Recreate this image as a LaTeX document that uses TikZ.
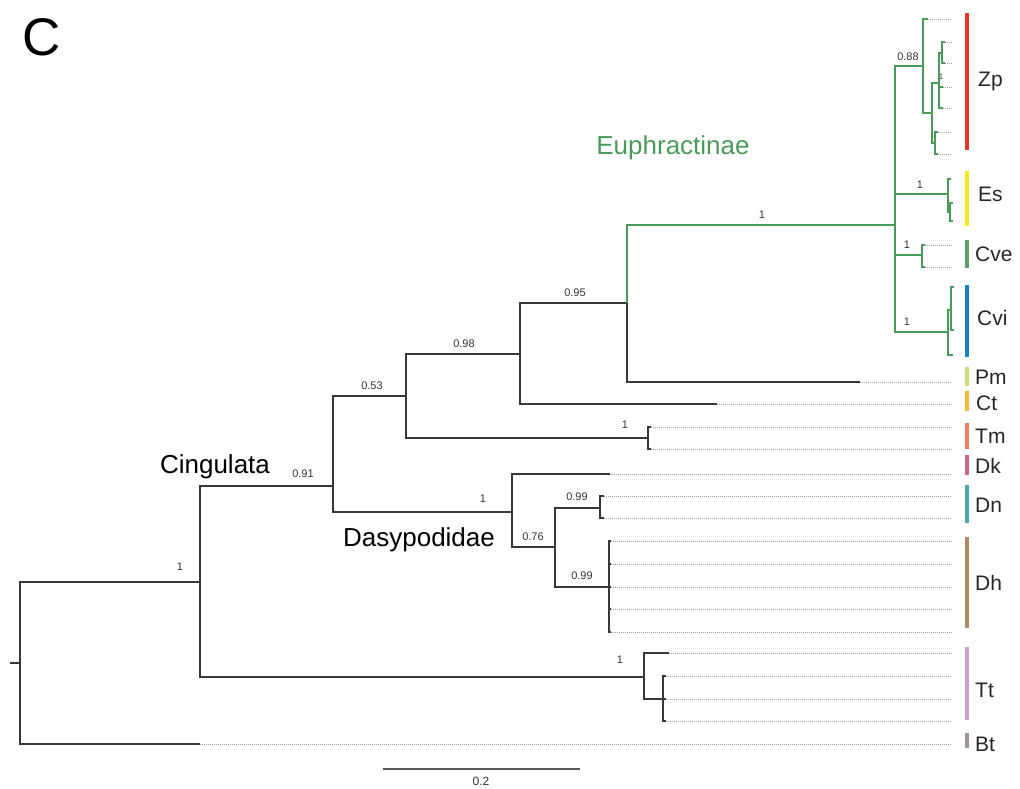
\documentclass[tikz,border=0pt]{standalone}
\usepackage{fontspec}
\setmainfont{Liberation Sans}
\definecolor{euph}{HTML}{4A9A5C}
\definecolor{cZp}{HTML}{E8352C}
\definecolor{cEs}{HTML}{F7E81E}
\definecolor{cCve}{HTML}{5E9E6C}
\definecolor{cCvi}{HTML}{1C7FC8}
\definecolor{cPm}{HTML}{CADC7C}
\definecolor{cCt}{HTML}{F6B93E}
\definecolor{cTm}{HTML}{F07F66}
\definecolor{cDk}{HTML}{CC6A7C}
\definecolor{cDn}{HTML}{4CA8A8}
\definecolor{cDh}{HTML}{A88B66}
\definecolor{cTt}{HTML}{D4A0CE}
\definecolor{cBt}{HTML}{A2929A}
\begin{document}
\begin{tikzpicture}[x=1pt,y=-1pt,
  br/.style={line width=1.4pt, draw=black!78},
  gbr/.style={line width=1.2pt, draw=euph},
  dotline/.style={line width=0.7pt, draw=black!38, dash pattern=on 0.7pt off 1.3pt},
  suplab/.style={font=\fontsize{11}{13}\selectfont, text=black!80, inner sep=0pt},
  tag/.style={anchor=west, font=\fontsize{21}{24}\selectfont, text=black!85, inner sep=0pt},
  clade/.style={font=\fontsize{26}{30}\selectfont, inner sep=0pt},
  cbar/.style={line width=4.5pt},
]
\useasboundingbox (0,0) rectangle (1020,789);

% panel letter
\node[font=\fontsize{53}{60}\selectfont, inner sep=0pt] (panel) at (42,37) {C};

% ---------- internal nodes ----------
\coordinate (rootstub) at (10,663);
\coordinate (root) at (20,663);
\coordinate (n1)   at (200,582);
\coordinate (n091) at (333,486);
\coordinate (n053) at (406,396);
\coordinate (n098) at (520,354);
\coordinate (n095) at (627,303);
\coordinate (euN)  at (895,225);
\coordinate (zpN)  at (923,66);
\coordinate (za)   at (932,113);
\coordinate (zb)   at (939,83);
\coordinate (zd)   at (942,53);
\coordinate (zc)   at (935,143);
\coordinate (esN)  at (948,194);
\coordinate (esS)  at (950,212);
\coordinate (cveN) at (922,255);
\coordinate (cviN) at (948,332);
\coordinate (cviS) at (951,310);
\coordinate (tmN)  at (648,438);
\coordinate (dasN) at (512,512);
\coordinate (n076) at (555,547);
\coordinate (dnN)  at (600,508);
\coordinate (dhN)  at (609,587);
\coordinate (ttN)  at (644,677);
\coordinate (tt2)  at (663,699);

% ---------- tips (end of solid branch) ----------
\coordinate (zp1) at (928,19);
\coordinate (zp2) at (945,42);
\coordinate (zp3) at (945,63);
\coordinate (zp4) at (943,87);
\coordinate (zp5) at (943,108);
\coordinate (zp6) at (938,132);
\coordinate (zp7) at (938,154);
\coordinate (es1) at (951,179);
\coordinate (es2) at (953,203);
\coordinate (es3) at (953,221);
\coordinate (cve1) at (925,245);
\coordinate (cve2) at (925,267);
\coordinate (cvi1) at (954,287);
\coordinate (cvi2) at (954,330);
\coordinate (cvi3) at (953,355);
\coordinate (pm)  at (860,382);
\coordinate (ct)  at (717,404);
\coordinate (tm1) at (651,427);
\coordinate (tm2) at (651,449);
\coordinate (dk)  at (610,474);
\coordinate (dn1) at (604,496);
\coordinate (dn2) at (604,518);
\coordinate (dh1) at (611,541);
\coordinate (dh2) at (611,564);
\coordinate (dh3) at (611,587);
\coordinate (dh4) at (611,609);
\coordinate (dh5) at (611,632);
\coordinate (tt1) at (669,653);
\coordinate (tt3) at (666,676);
\coordinate (tt4) at (666,699);
\coordinate (tt5) at (666,721);
\coordinate (bt)  at (200,744);
\coordinate (tipend) at (952,0);

% ---------- dotted tip extensions ----------
\foreach \t in {zp1,zp2,zp3,zp4,zp5,zp6,zp7,cve1,cve2,pm,ct,tm1,tm2,dk,dn1,dn2,dh1,dh2,dh3,dh4,dh5,tt1,tt3,tt4,tt5,bt}
  \draw[dotline] (\t) -- (\t -| tipend);

% ---------- black branches ----------
\draw[br] (rootstub) -- (root);
\draw[br] (root) |- (n1);
\draw[br] (root) |- (bt);
\draw[br] (n1) |- (n091);
\draw[br] (n1) |- (ttN);
\draw[br] (n091) |- (n053);
\draw[br] (n091) |- (dasN);
\draw[br] (n053) |- (n098);
\draw[br] (n053) |- (tmN);
\draw[br] (n098) |- (n095);
\draw[br] (n098) |- (ct);
\draw[br] (n095) |- (pm);
\draw[br] (tmN) |- (tm1);
\draw[br] (tmN) |- (tm2);
\draw[br] (dasN) |- (dk);
\draw[br] (dasN) |- (n076);
\draw[br] (n076) |- (dnN);
\draw[br] (n076) |- (dhN);
\draw[br] (dnN) |- (dn1);
\draw[br] (dnN) |- (dn2);
\foreach \t in {dh1,dh2,dh3,dh4,dh5} \draw[br] (dhN) |- (\t);
\draw[br] (ttN) |- (tt1);
\draw[br] (ttN) |- (tt2);
\foreach \t in {tt3,tt4,tt5} \draw[br] (tt2) |- (\t);

% ---------- Euphractinae (green) ----------
\draw[gbr] (n095) |- (euN);
\draw[gbr] (euN) |- (zpN);
\draw[gbr] (euN) |- (esN);
\draw[gbr] (euN) |- (cveN);
\draw[gbr] (euN) |- (cviN);
\draw[gbr] (zpN) |- (zp1);
\draw[gbr] (zpN) |- (za);
\draw[gbr] (za) |- (zb);
\draw[gbr] (za) |- (zc);
\draw[gbr] (zb) |- (zd);
\draw[gbr] (zb) |- (zp4);
\draw[gbr] (zb) |- (zp5);
\draw[gbr] (zd) |- (zp2);
\draw[gbr] (zd) |- (zp3);
\draw[gbr] (zc) |- (zp6);
\draw[gbr] (zc) |- (zp7);
\draw[gbr] (esN) |- (es1);
\draw[gbr] (esN) |- (esS);
\draw[gbr] (esS) |- (es2);
\draw[gbr] (esS) |- (es3);
\draw[gbr] (cveN) |- (cve1);
\draw[gbr] (cveN) |- (cve2);
\draw[gbr] (cviN) |- (cviS);
\draw[gbr] (cviN) |- (cvi3);
\draw[gbr] (cviS) |- (cvi1);
\draw[gbr] (cviS) |- (cvi2);

% ---------- support values ----------
\node[suplab] (s088) at (908,57) {0.88};
\node[suplab, font=\fontsize{8}{9}\selectfont] (szp) at (941,77) {1};
\node[suplab] (ses)  at (920,185) {1};
\node[suplab] (scve) at (907,245) {1};
\node[suplab] (scvi) at (907,322) {1};
\node[suplab] (seu)  at (762,215) {1};
\node[suplab] (s095) at (575,293) {0.95};
\node[suplab] (s098) at (464,344) {0.98};
\node[suplab] (s053) at (372,386) {0.53};
\node[suplab] (stm)  at (625,425) {1};
\node[suplab] (s091) at (303,474) {0.91};
\node[suplab] (sdas) at (483,499) {1};
\node[suplab] (sdn)  at (577,497) {0.99};
\node[suplab] (s076) at (533,537) {0.76};
\node[suplab] (sdh)  at (582,576) {0.99};
\node[suplab] (sn1)  at (180,567) {1};
\node[suplab] (stt)  at (620,660) {1};

% ---------- clade names ----------
\node[clade, text=euph] (lEu) at (673,148) {Euphractinae};
\node[clade] (lCi) at (215,467) {Cingulata};
\node[clade] (lDa) at (419,540) {Dasypodidae};

% ---------- colour bars and taxon labels ----------
\draw[cbar, cZp]  (967,13)  -- (967,150);
\draw[cbar, cEs]  (967,171) -- (967,226);
\draw[cbar, cCve] (967,240) -- (967,268);
\draw[cbar, cCvi] (967,285) -- (967,357);
\draw[cbar, cPm]  (967,367) -- (967,386);
\draw[cbar, cCt]  (967,391) -- (967,411);
\draw[cbar, cTm]  (967,423) -- (967,449);
\draw[cbar, cDk]  (967,455) -- (967,475);
\draw[cbar, cDn]  (967,485) -- (967,523);
\draw[cbar, cDh]  (967,537) -- (967,628);
\draw[cbar, cTt]  (967,647) -- (967,720);
\draw[cbar, cBt]  (967,733) -- (967,748);

\node[tag] (tZp)  at (978,81)  {Zp};
\node[tag] (tEs)  at (978,194) {Es};
\node[tag] (tCve) at (975,254) {Cve};
\node[tag] (tCvi) at (977,318) {Cvi};
\node[tag] (tPm)  at (975,377) {Pm};
\node[tag] (tCt)  at (976,403) {Ct};
\node[tag] (tTm)  at (975,436) {Tm};
\node[tag] (tDk)  at (975,466) {Dk};
\node[tag] (tDn)  at (975,505) {Dn};
\node[tag] (tDh)  at (975,583) {Dh};
\node[tag] (tTt)  at (975,690) {Tt};
\node[tag] (tBt)  at (975,744) {Bt};

% ---------- scale bar ----------
\coordinate (sbL) at (383,769);
\coordinate (sbR) at (580,769);
\draw[line width=1.5pt, draw=black!65] (sbL) -- (sbR);
\node[suplab, font=\fontsize{12}{14}\selectfont] (sbT) at (481,781) {0.2};
\end{tikzpicture}
\end{document}
